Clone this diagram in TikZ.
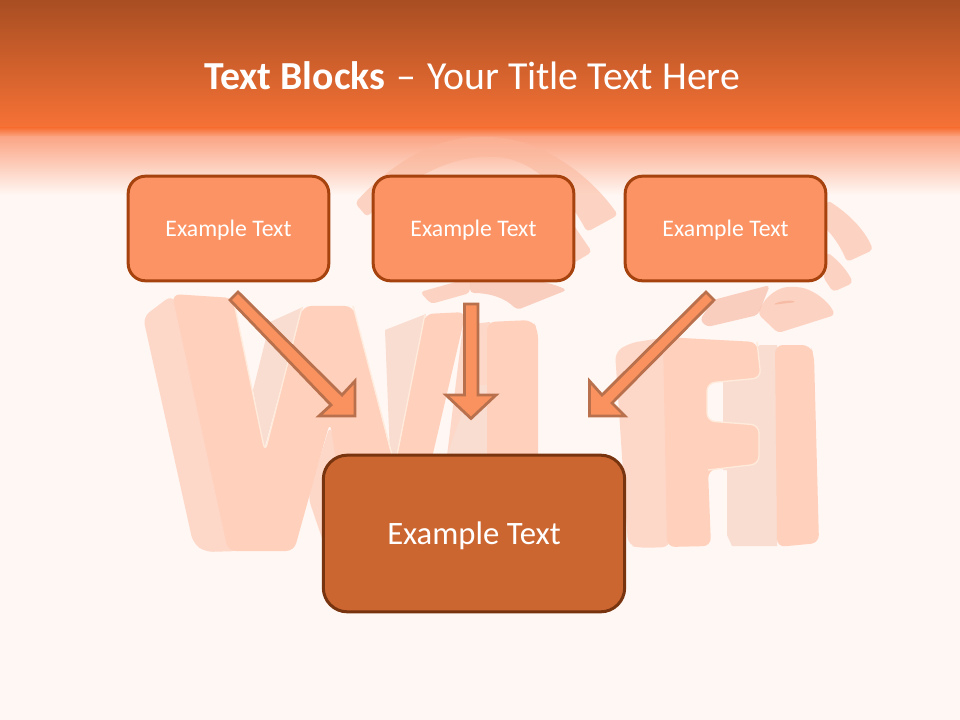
\documentclass[tikz,border=0pt]{standalone}
\usepackage{fontspec}
\setmainfont{Carlito}
\begin{document}
\begin{tikzpicture}[x=0.75pt,y=-0.75pt,
  front/.style={fill=letterfront,rounded corners=6pt},
  side/.style={fill=letterside,rounded corners=6pt},
  shadeface/.style={fill=lettershade},
  glint/.style={draw=letterglint,line width=1pt,rounded corners=6pt},
  band/.style={fill=arcfront,opacity=.55,rounded corners=3pt},
  banddark/.style={fill=arcdark,opacity=.5,rounded corners=3pt},
  smallbox/.style={draw=smallline,fill=smallfill,line width=2.25pt,rounded corners=13pt,minimum width=150.5pt,minimum height=78.5pt,text=white,font=\fontsize{17.8}{21}\selectfont,inner sep=0pt},
  bigbox/.style={draw=bigline,fill=bigfill,line width=2.25pt,rounded corners=18pt,minimum width=226pt,minimum height=117.5pt,text=white,font=\fontsize{24.5}{29}\selectfont,inner sep=0pt},
  blockarrow/.style={draw=arrowline,fill=arrowfill,line width=2.1pt,line join=miter}]
\definecolor{bgc}{HTML}{FFF7F3}
\definecolor{headtop}{HTML}{A84E22}
\definecolor{headbot}{HTML}{F77236}
\definecolor{fadetop}{HTML}{FBA585}
\definecolor{letterfront}{HTML}{FFD0BC}
\definecolor{letterside}{HTML}{FDD8C9}
\definecolor{lettershade}{HTML}{F9DDD1}
\definecolor{letterglint}{HTML}{FFEBDC}
\definecolor{arcfront}{HTML}{FBB79B}
\definecolor{arcdark}{HTML}{F4A78C}
\definecolor{smallfill}{HTML}{FB9364}
\definecolor{smallline}{HTML}{A6420E}
\definecolor{bigfill}{HTML}{CC6631}
\definecolor{bigline}{HTML}{77340F}
\definecolor{arrowfill}{HTML}{F9925F}
\definecolor{arrowline}{HTML}{B9704C}
\useasboundingbox (0,0) rectangle (960,720);
\fill[bgc] (0,0) rectangle (960,720);
\shade[top color=headtop,bottom color=headbot] (0,0) rectangle (960,128.5);
\shade[top color=headbot,bottom color=fadetop] (0,128) rectangle (960,137);
\shade[top color=fadetop,bottom color=bgc] (0,136.5) rectangle (960,195);
% wifi arcs, left symbol
\path[band] (355,203) .. controls (385,170) and (430,137) .. (483,137) .. controls (540,137) and (590,175) .. (618,215) -- (587,232) .. controls (570,200) and (535,157) .. (490,157) .. controls (440,157) and (395,190) .. (367,217) -- cycle;
\path[band] (560,205) -- (592,252) -- (572,264) -- (545,225) -- cycle;
\path[band] (420,292) -- (470,278) -- (470,293) -- (431,304) -- cycle;
\path[banddark] (470,278) .. controls (510,275) and (545,280) .. (567,290) -- (517,310) .. controls (505,298) and (490,293) .. (470,293) -- cycle;
% wifi arcs, right symbol
\path[band] (827,200) .. controls (848,213) and (865,230) .. (873,250) -- (847,262) .. controls (842,250) and (835,238) .. (825,228) -- cycle;
\path[band] (827,252) .. controls (840,262) and (848,272) .. (853,283) -- (833,292) -- (823,277) -- cycle;
\path[banddark] (700,320) -- (713,300) -- (770,285) -- (758,315) -- (707,327) -- cycle;
\path[band] (758,314) .. controls (765,295) and (780,287) .. (792,287) .. controls (810,287) and (828,300) .. (835,315) -- (778,333) -- cycle;
\path[banddark] (772,305) .. controls (780,301) and (790,300) .. (797,302) -- cycle;
% W
\fill[shadeface] (270,322) -- (303,307) -- (264,450) -- (253,390) -- cycle;
\fill[shadeface] (385,330) -- (426,314) -- (397,455) -- (390,455) -- cycle;
\fill[letterside] (463,325) -- (490,322) -- (490,456) -- (447,456) -- cycle;
\fill[shadeface] (472,385) -- (490,385) -- (490,456) -- (447,456) -- cycle;
\path[side] (143,317) -- (172,295) -- (232,400) -- (240,551) -- (205,552) -- (193,543) -- cycle;
\path[side] (330,425) -- (348,490) -- (340,547) -- (325,547) -- (308,497) -- cycle;
\path[front] (172,294) -- (233,298) -- (265,452) -- (303,306) -- (353,306) -- (392,458) -- (397,458) -- (425,314) -- (466,312) -- (410,552) -- (350,552) -- (330,422) -- (294,551) -- (228,551) -- cycle;
\draw[glint] (233,298) -- (265,452) -- (302,307);
\draw[glint] (353,306) -- (392,455);
\draw[glint] (425,314) -- (397,455);
% I of the Wi
\path[front] (487,322) -- (532,320) -- (538,330) -- (538,540) -- (487,540) -- cycle;
% second I (Fi), side faces behind the F
\fill[shadeface] (723,376) -- (760,345) -- (777,345) -- (777,546) -- (732,546) -- (727,535) -- (727,470) -- (723,470) -- cycle;
% F
\path[side] (615,352) -- (630,343) -- (668,337) -- (670,547) -- (640,548) -- (628,545) -- cycle;
\path[front] (663,337) -- (757,342) -- (761,378) -- (707,383) -- (707,421) -- (759,425) -- (759,464) -- (708,470) -- (711,546) -- (667,547) -- cycle;
\draw[glint] (757,342) -- (761,378) -- (707,383) -- (707,421) -- (759,425) -- (759,464) -- (708,470);
% I of the Fi
\path[front] (775,345) -- (810,345) -- (814,355) -- (819,543) -- (777,547) -- cycle;
% boxes
\node[smallbox] (leftbox) at (228.5,228.5) {\raisebox{-6pt}[0pt][0pt]{Example Text}};
\node[smallbox] (midbox) at (473.5,228.5) {\raisebox{-6pt}[0pt][0pt]{Example Text}};
\node[smallbox] (rightbox) at (725.5,228.5) {\raisebox{-6pt}[0pt][0pt]{Example Text}};
\node[bigbox] (bottombox) at (474,533.5) {\raisebox{-8.6pt}[0pt][0pt]{Example Text}};
% block arrows
\draw[blockarrow] (238,292) -- (342,395) -- (355,381) -- (355,416) -- (319,416) -- (331,405) -- (230,300) -- cycle;
\draw[blockarrow] (464.5,304) -- (478,304) -- (478,395) -- (496,395) -- (471,418.5) -- (446,395) -- (464.5,395) -- cycle;
\draw[blockarrow] (706,292) -- (714,300) -- (612,403) -- (625,416) -- (589.5,416) -- (589.5,381) -- (602,395) -- cycle;
% title
\node[text=white,font=\fontsize{29.8}{35}\selectfont,inner sep=0pt] (title) at (472,76) {\textbf{Text Blocks}\hspace{1.5pt} – \hspace{1.5pt}Your Title Text Here};
\end{tikzpicture}
\end{document}
